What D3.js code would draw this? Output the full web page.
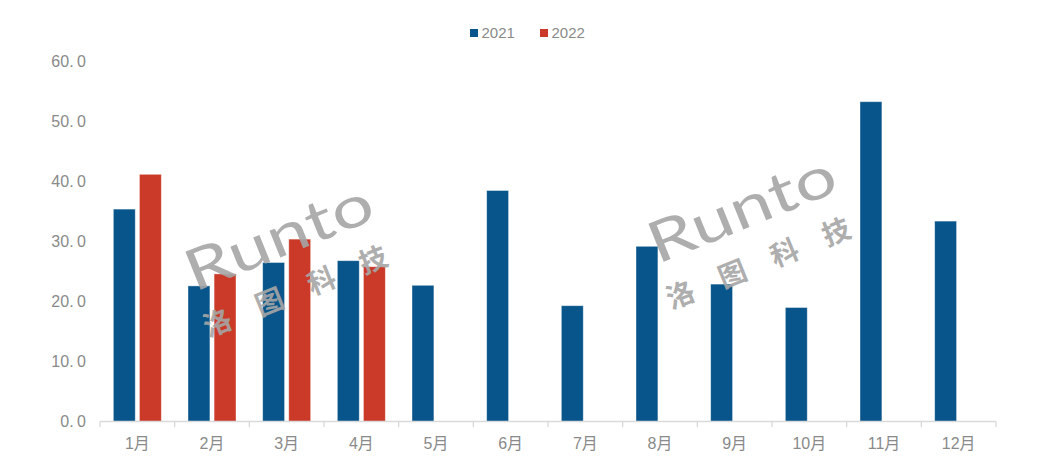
<!DOCTYPE html>
<html><head><meta charset="utf-8">
<script src="https://cdn.jsdelivr.net/npm/d3@7"></script>
<style>body{margin:0;background:#fff}svg{display:block}</style>
</head><body><div id="chart"></div>
<script>
const months = ["1月","2月","3月","4月","5月","6月","7月","8月","9月","10月","11月","12月"];
const seriesNames = ["2021","2022"];
const values2021 = [35.4,22.6,26.5,26.8,22.7,38.5,19.3,29.2,22.9,19.0,53.3,33.4];
const values2022 = [41.2,24.6,30.4,25.8,null,null,null,null,null,null,null,null];
const yTicks = [0,10,20,30,40,50,60];
const colors = ["#07558A","#CB3A28"];

const W=1052,H=462;
const svg=d3.select("#chart").append("svg").attr("width",W).attr("height",H);
const x=d3.scaleBand().domain(months).range([100,996]);
const bw=x.bandwidth();
const x1=d3.scaleBand().domain(seriesNames).range([bw/2-24,bw/2+24]).paddingInner(0.16);
const y=d3.scaleLinear().domain([0,60]).range([421.5,61.5]);

// y labels
const yl=svg.append("g").attr("font-family","'Liberation Sans',Arial,sans-serif").attr("font-size",16).attr("fill","#8a8a8a");
yTicks.forEach(t=>{
  const s=t.toFixed(1).split(".");
  const tx=yl.append("text").attr("x",86).attr("y",y(t)).attr("dy","0.35em").attr("text-anchor","end");
  tx.append("tspan").text(s[0]+".");
  tx.append("tspan").attr("dx",3.5).text(s[1]);
});

// bars
const data=[values2021,values2022];
data.forEach((vals,si)=>{
  svg.append("g").selectAll("rect").data(months.map((m,i)=>({m,v:vals[i]})).filter(d=>d.v!=null))
   .join("rect")
   .attr("x",d=>x(d.m)+x1(seriesNames[si]))
   .attr("width",x1.bandwidth())
   .attr("y",d=>y(d.v)).attr("height",d=>y(0)-y(d.v))
   .attr("fill",colors[si]).attr("stroke","#fff").attr("stroke-opacity",0.5).attr("stroke-width",0.8);
});

// x axis
const xa=svg.append("g");
xa.append("line").attr("x1",100).attr("x2",996).attr("y1",421.5).attr("y2",421.5).attr("stroke","#d9d9d9").attr("stroke-width",1.3);
const bounds=months.map(m=>x(m)).concat([996]);
xa.selectAll("line.tk").data(bounds).join("line").attr("class","tk")
  .attr("x1",d=>d).attr("x2",d=>d).attr("y1",421.5).attr("y2",427).attr("stroke","#d9d9d9").attr("stroke-width",1.3);
xa.selectAll("text").data(months).join("text")
  .attr("x",d=>x(d)+bw/2).attr("y",443).attr("dy","0.35em").attr("text-anchor","middle")
  .attr("font-family","'Liberation Sans','Noto Sans CJK SC',sans-serif").attr("font-size",16).attr("fill","#8a8a8a").text(d=>d);

// watermarks
function wm(ax,ay){
  const g=svg.append("g").attr("transform",`translate(${ax},${ay}) rotate(-22)`).attr("fill","#a6a6a6").attr("opacity",0.9);
  g.append("text").attr("transform","translate(4,2) scale(1.3,1)").attr("font-family","Lato,'Open Sans',sans-serif").attr("font-weight",400).attr("font-size",57).attr("letter-spacing",0.5).text("Runto");
  g.append("text").attr("x",0).attr("y",49).attr("font-family","'Noto Sans CJK SC',sans-serif").attr("font-weight",700).attr("font-size",28).attr("letter-spacing",28).text("洛图科技");
}
wm(190,292);
wm(653,264);

// legend
const lg=svg.append("g").attr("font-family","'Liberation Sans',Arial,sans-serif").attr("font-size",15).attr("fill","#8a8a8a");
[[470,"2021"],[540,"2022"]].forEach(([lx,n],i)=>{
  lg.append("rect").attr("x",lx).attr("y",29).attr("width",8).attr("height",8).attr("fill",colors[i]);
  lg.append("text").attr("x",lx+11.5).attr("y",33).attr("dy","0.35em").text(n);
});
</script></body></html>
